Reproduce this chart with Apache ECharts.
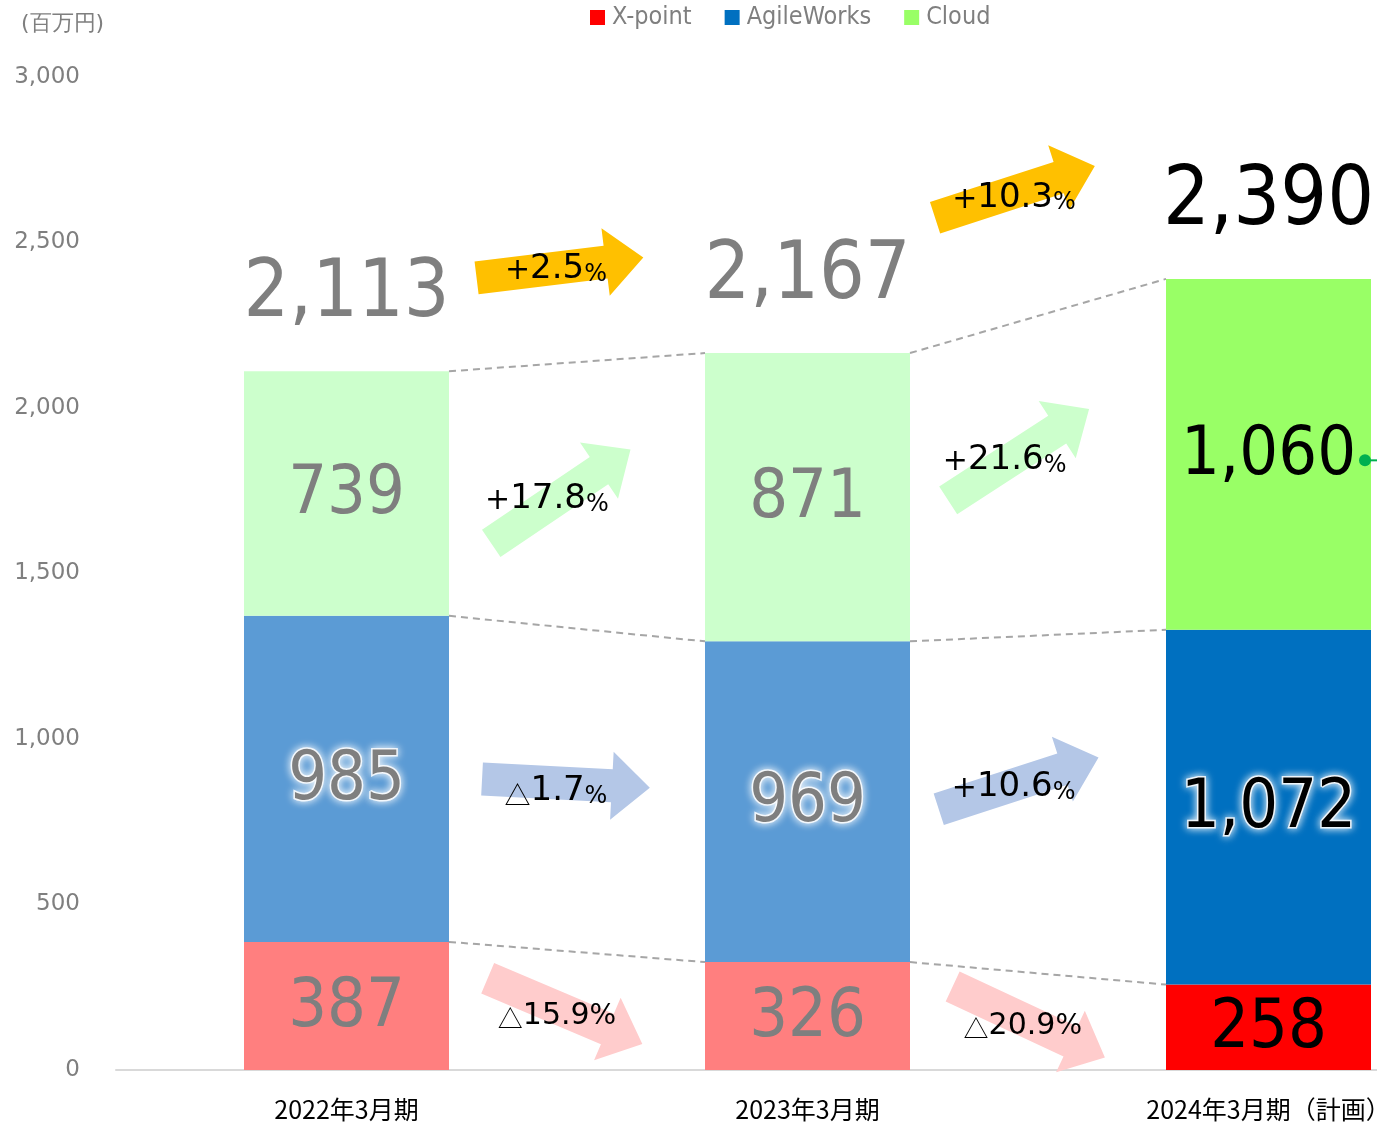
<!DOCTYPE html>
<html lang="ja">
<head>
  <meta charset="UTF-8">
  <title>売上推移</title>
  <script src="https://cdn.jsdelivr.net/npm/echarts@6/dist/echarts.min.js"></script>
  <style>
    html, body { margin: 0; padding: 0; background: #fff; }
    #chart { width: 1377px; height: 1122px; }
  </style>
</head>
<body>
  <div id="chart"></div>
  <script>
    // data
    var categories = ['2022年3月期', '2023年3月期', '2024年3月期（計画）'];
    var xpoint = [387, 326, 258];
    var agile = [985, 969, 1072];
    var cloud = [739, 871, 1060];
    var totals = [2113, 2167, 2390];
    // growth between periods (22->23, 23->24)
    var growthTotal = ['+2.5', '+10.3'];
    var growthCloud = ['+17.8', '+21.6'];
    var growthAgile = ['△1.7', '+10.6'];
    var growthXpoint = ['△15.9', '△20.9'];

    var FONT = '"DejaVu Sans", Verdana, sans-serif';
    var FONT_C = '"DejaVu Sans Condensed", "DejaVu Sans", sans-serif';
    var CJK = '"Noto Sans CJK JP", sans-serif';
    var GRAY = '#7F7F7F';
    var BAR_W = 205;

    // arrow layout: gap index, fraction of gap, y value (axis units), angle deg, colour
    var arrows = [
      { gap: 0, frac: 0.463, y: 2424, ang: -7,  color: '#FFC000', text: growthTotal[0], tx: -4, ty: -1 },
      { gap: 1, frac: 0.450, y: 2653, ang: -18, color: '#FFC000', text: growthTotal[1], tx: -1, ty: 3 },
      { gap: 0, frac: 0.465, y: 1733, ang: -34, color: '#CCFFCC', text: growthCloud[0], tx: -14, ty: 0 },
      { gap: 1, frac: 0.458, y: 1859, ang: -33, color: '#CCFFCC', text: growthCloud[1], tx: -14, ty: 3 },
      { gap: 0, frac: 0.476, y: 866,  ang: 3,   color: '#B4C7E7', text: growthAgile[0], tx: -10, ty: 5 },
      { gap: 1, frac: 0.458, y: 866,  ang: -18, color: '#B4C7E7', text: growthAgile[1], tx: -5, ty: 1 },
      { gap: 0, frac: 0.474, y: 178,  ang: 23,  color: '#FFCCCC', text: growthXpoint[0], tx: -8, ty: 0, small: true },
      { gap: 1, frac: 0.480, y: 145,  ang: 25,  color: '#FFCCCC', text: growthXpoint[1], tx: -6, ty: -1, small: true }
    ];

    function fmt(v) {
      return String(v).replace(/\B(?=(\d{3})+(?!\d))/g, ',');
    }

    function stackTop(i, level) {
      var s = [xpoint[i], xpoint[i] + agile[i], xpoint[i] + agile[i] + cloud[i]];
      return s[level];
    }

    function barData(values, faded) {
      return values.map(function (v, i) {
        var last = i === values.length - 1;
        var item = { value: v, label: { color: last ? '#000' : GRAY } };
        if (!last) item.itemStyle = { color: faded };
        return item;
      });
    }

    var baseLabel = {
      show: true,
      position: 'inside',
      offset: [0, 2],
      fontFamily: FONT_C,
      fontSize: 68,
      formatter: function (p) { return fmt(p.value); }
    };

    function arrowPoints(cx, cy, deg) {
      var L = 168, t = 33, w = 68, h = 38;
      var pts = [
        [-L / 2, -t / 2], [L / 2 - h, -t / 2], [L / 2 - h, -w / 2], [L / 2, 0],
        [L / 2 - h, w / 2], [L / 2 - h, t / 2], [-L / 2, t / 2]
      ];
      var a = deg * Math.PI / 180, c = Math.cos(a), s = Math.sin(a);
      return pts.map(function (p) {
        return [cx + p[0] * c - p[1] * s, cy + p[0] * s + p[1] * c];
      });
    }

    function pctText(str, small) {
      var k = small ? '2' : '';
      var out = '';
      if (str.charAt(0) === '△') out += '{t' + k + '|△}';
      else out += '{s|+}';
      out += '{n' + k + '|' + str.slice(1) + '}';
      out += '{p' + k + '|%}';
      return out;
    }

    function rich(size, family) {
      return { fontSize: size, fontFamily: family, fill: '#000', lineHeight: 40, verticalAlign: 'bottom' };
    }

    var chart = echarts.init(document.getElementById('chart'));

    var option = {
      animation: false,
      title: {
        text: '(百万円)',
        left: 16,
        top: 8,
        textStyle: { fontFamily: FONT, fontSize: 22, fontWeight: 'normal', color: GRAY }
      },
      legend: {
        left: 585,
        top: 0,
        icon: 'rect',
        itemWidth: 15,
        itemHeight: 15,
        itemGap: 33,
        data: ['X-point', 'AgileWorks', 'Cloud'],
        textStyle: { fontFamily: FONT_C, fontSize: 25, color: GRAY, padding: [0, 0, 0, 2] }
      },
      grid: {
        left: 116,
        top: 77,
        width: 1383,
        height: 993,
        containLabel: false,
        outerBoundsMode: 'none'
      },
      xAxis: {
        type: 'category',
        data: categories,
        axisLine: { lineStyle: { color: '#D9D9D9', width: 2 } },
        axisTick: { show: false },
        axisLabel: {
          margin: 27,
          color: '#000',
          fontSize: 25,
          fontFamily: CJK
        }
      },
      yAxis: {
        type: 'value',
        min: 0,
        max: 3000,
        interval: 500,
        axisLine: { show: false },
        axisTick: { show: false },
        splitLine: { show: false },
        axisLabel: {
          margin: 36,
          color: GRAY,
          fontSize: 23,
          fontFamily: FONT,
          formatter: function (v) { return fmt(v); }
        }
      },
      series: [
        {
          name: 'X-point',
          type: 'bar',
          stack: 'sales',
          barWidth: BAR_W,
          itemStyle: { color: '#FF0000' },
          label: baseLabel,
          data: barData(xpoint, '#FF7F7F')
        },
        {
          name: 'AgileWorks',
          type: 'bar',
          stack: 'sales',
          barWidth: BAR_W,
          itemStyle: { color: '#0070C0' },
          label: Object.assign({}, baseLabel, {
            textBorderColor: 'rgba(255,255,255,0.85)',
            textBorderWidth: 3,
            textShadowColor: '#fff',
            textShadowBlur: 8
          }),
          data: barData(agile, '#5B9BD5')
        },
        {
          name: 'Cloud',
          type: 'bar',
          stack: 'sales',
          barWidth: BAR_W,
          itemStyle: { color: '#99FF66' },
          label: baseLabel,
          data: barData(cloud, '#CCFFCC')
        },
        {
          // dashed connectors between stack levels
          type: 'custom',
          silent: true,
          z: 1,
          data: [[0, 0], [0, 1], [0, 2], [1, 0], [1, 1], [1, 2]],
          renderItem: function (params, api) {
            var g = api.value(0), lv = api.value(1);
            var p0 = api.coord([g, stackTop(g, lv)]);
            var p1 = api.coord([g + 1, stackTop(g + 1, lv)]);
            return {
              type: 'line',
              shape: { x1: p0[0] + BAR_W / 2, y1: p0[1], x2: p1[0] - BAR_W / 2, y2: p1[1] },
              style: { stroke: '#A6A6A6', lineWidth: 2, lineDash: [7, 5] }
            };
          }
        },
        {
          // growth arrows
          type: 'custom',
          silent: true,
          z: 3,
          data: arrows.map(function (a) { return [a.gap, a.y]; }),
          renderItem: function (params, api) {
            var a = arrows[params.dataIndex];
            var g = api.value(0);
            var x0 = api.coord([g, 0])[0], x1 = api.coord([g + 1, 0])[0];
            var cx = x0 + (x1 - x0) * a.frac;
            var cy = api.coord([g, api.value(1)])[1];
            return {
              type: 'group',
              children: [
                {
                  type: 'polygon',
                  shape: { points: arrowPoints(cx, cy, a.ang) },
                  style: { fill: a.color }
                },
                {
                  type: 'text',
                  x: cx + a.tx,
                  y: cy + a.ty,
                  style: {
                    text: pctText(a.text, a.small),
                    align: 'center',
                    verticalAlign: 'middle',
                    fill: '#000',
                    fontFamily: FONT,
                    rich: {
                      s: rich(30, FONT),
                      t: rich(26, CJK),
                      n: rich(34, FONT),
                      p: rich(24, FONT),
                      t2: rich(25, CJK),
                      n2: rich(30, FONT),
                      p2: rich(28, FONT)
                    }
                  }
                }
              ]
            };
          }
        },
        {
          // total labels above each stack
          type: 'custom',
          silent: true,
          z: 4,
          data: totals.map(function (t, i) { return [i, stackTop(i, 2)]; }),
          renderItem: function (params, api) {
            var i = params.dataIndex;
            var p = api.coord([api.value(0), api.value(1)]);
            var last = i === totals.length - 1;
            return {
              type: 'text',
              x: p[0],
              y: p[1] - 76,
              style: {
                text: fmt(totals[i]),
                align: 'center',
                verticalAlign: 'middle',
                fill: last ? '#000' : GRAY,
                fontFamily: FONT_C,
                fontSize: last ? 82 : 80
              }
            };
          }
        },
        {
          // leader marker at the right edge of the plan bar
          type: 'custom',
          silent: true,
          z: 4,
          data: [[2, xpoint[2] + agile[2] + cloud[2] / 2]],
          renderItem: function (params, api) {
            var p = api.coord([api.value(0), api.value(1)]);
            var x = p[0] + BAR_W / 2 - 6, y = p[1] + 6;
            return {
              type: 'group',
              children: [
                { type: 'line', shape: { x1: x, y1: y, x2: x + 20, y2: y }, style: { stroke: '#00B050', lineWidth: 2 } },
                { type: 'circle', shape: { cx: x, cy: y, r: 6 }, style: { fill: '#00B050' } }
              ]
            };
          }
        }
      ]
    };

    chart.setOption(option);
  </script>
</body>
</html>
